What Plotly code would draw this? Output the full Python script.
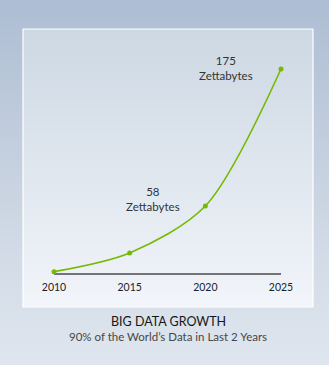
import base64
import plotly.graph_objects as go

# ---- data ----
years = [2010, 2015, 2020, 2025]
zettabytes = [2, 18, 58, 175]
tick_labels = ["2010", "2015", "2020", "2025"]
callout_years = [2020, 2025]
callout_values = [58, 175]
callout_texts = ["58<br>Zettabytes", "175<br>Zettabytes"]
title_text = "BIG DATA GROWTH"
subtitle_text = "90% of the World\u2019s Data in Last 2 Years"

W, H = 329, 365
FONT = "Lato"


def svg_uri(svg):
    return "data:image/svg+xml;base64," + base64.b64encode(svg.encode()).decode()


bg_svg = f"""<svg xmlns='http://www.w3.org/2000/svg' width='{W}' height='{H}' preserveAspectRatio='none'>
<defs><linearGradient id='g' x1='0' y1='0' x2='0' y2='1'>
<stop offset='0' stop-color='#adbdd3'/><stop offset='0.55' stop-color='#cbd5e2'/><stop offset='1' stop-color='#dfe6ef'/>
</linearGradient></defs><rect width='100%' height='100%' fill='url(#g)'/></svg>"""

panel_svg = """<svg xmlns='http://www.w3.org/2000/svg' width='290' height='278' preserveAspectRatio='none'>
<defs><linearGradient id='p' x1='0' y1='0' x2='0' y2='1'>
<stop offset='0' stop-color='#cdd8e3'/><stop offset='0.5' stop-color='#dfe6ee'/><stop offset='1' stop-color='#f2f5fa'/>
</linearGradient></defs><rect width='100%' height='100%' fill='url(#p)'/></svg>"""

# pixel geometry -> axis ranges
x0px, x1px = 54, 281
ppy = (x1px - x0px) / (years[-1] - years[0])
xr = [years[0] - x0px / ppy, years[-1] + (W - x1px) / ppy]
base_px = 274
ppz = (base_px - 69) / 175.0
yr = [-(H - base_px) / ppz, base_px / ppz]

fig = go.Figure()
fig.add_trace(go.Scatter(
    x=years, y=zettabytes, mode="lines+markers",
    line=dict(color="#76b900", width=1.6, shape="spline", smoothing=0.85),
    marker=dict(color="#76b900", size=5),
    hoverinfo="skip", showlegend=False,
))

fig.add_shape(type="line", xref="x", yref="y", x0=years[0], x1=years[-1], y0=0, y1=0,
              line=dict(color="#4a4a4a", width=1.6), layer="below")

px = lambda p: p / W
py = lambda p: 1 - p / H
fig.add_shape(type="rect", xref="paper", yref="paper",
              x0=px(23), x1=px(313), y0=py(307), y1=py(29),
              line=dict(color="#ffffff", width=1.2), fillcolor="rgba(0,0,0,0)", layer="below")

fig.add_layout_image(dict(source=svg_uri(bg_svg), xref="paper", yref="paper", x=0, y=1,
                          sizex=1, sizey=1, sizing="stretch", layer="below"))
fig.add_layout_image(dict(source=svg_uri(panel_svg), xref="paper", yref="paper", x=px(23), y=py(29),
                          sizex=px(313) - px(23), sizey=py(29) - py(307), sizing="stretch", layer="below"))

callout_shifts = [(-52, 7), (-55, 1)]
for cx, cv, ct, (sx, sy) in zip(callout_years, callout_values, callout_texts, callout_shifts):
    fig.add_annotation(x=cx, y=cv, xref="x", yref="y", text=ct, showarrow=False,
                       xshift=sx, yshift=sy, font=dict(family=FONT, size=11.5, color="#333333"),
                       align="center")

fig.add_annotation(x=px(168), y=py(330.5), xref="paper", yref="paper", text=title_text,
                   showarrow=False, font=dict(family=FONT, size=12.5, color="#161616"))
fig.add_annotation(x=px(168), y=py(344.5), xref="paper", yref="paper", text=subtitle_text,
                   showarrow=False, font=dict(family=FONT, size=11.5, color="#474747"))

fig.update_layout(
    width=W, height=H, margin=dict(l=0, r=0, t=0, b=0),
    paper_bgcolor="#c5d0de", plot_bgcolor="rgba(0,0,0,0)",
    xaxis=dict(range=xr, domain=[0, 1], anchor="free", position=(H - base_px) / H,
               tickvals=years, ticktext=tick_labels, showgrid=False, zeroline=False,
               showline=False, ticks="outside", ticklen=3, tickcolor="rgba(0,0,0,0)",
               tickfont=dict(family=FONT, size=10.5, color="#222222"), fixedrange=True),
    yaxis=dict(range=yr, domain=[0, 1], visible=False, fixedrange=True),
)

fig.write_html("out.html")
